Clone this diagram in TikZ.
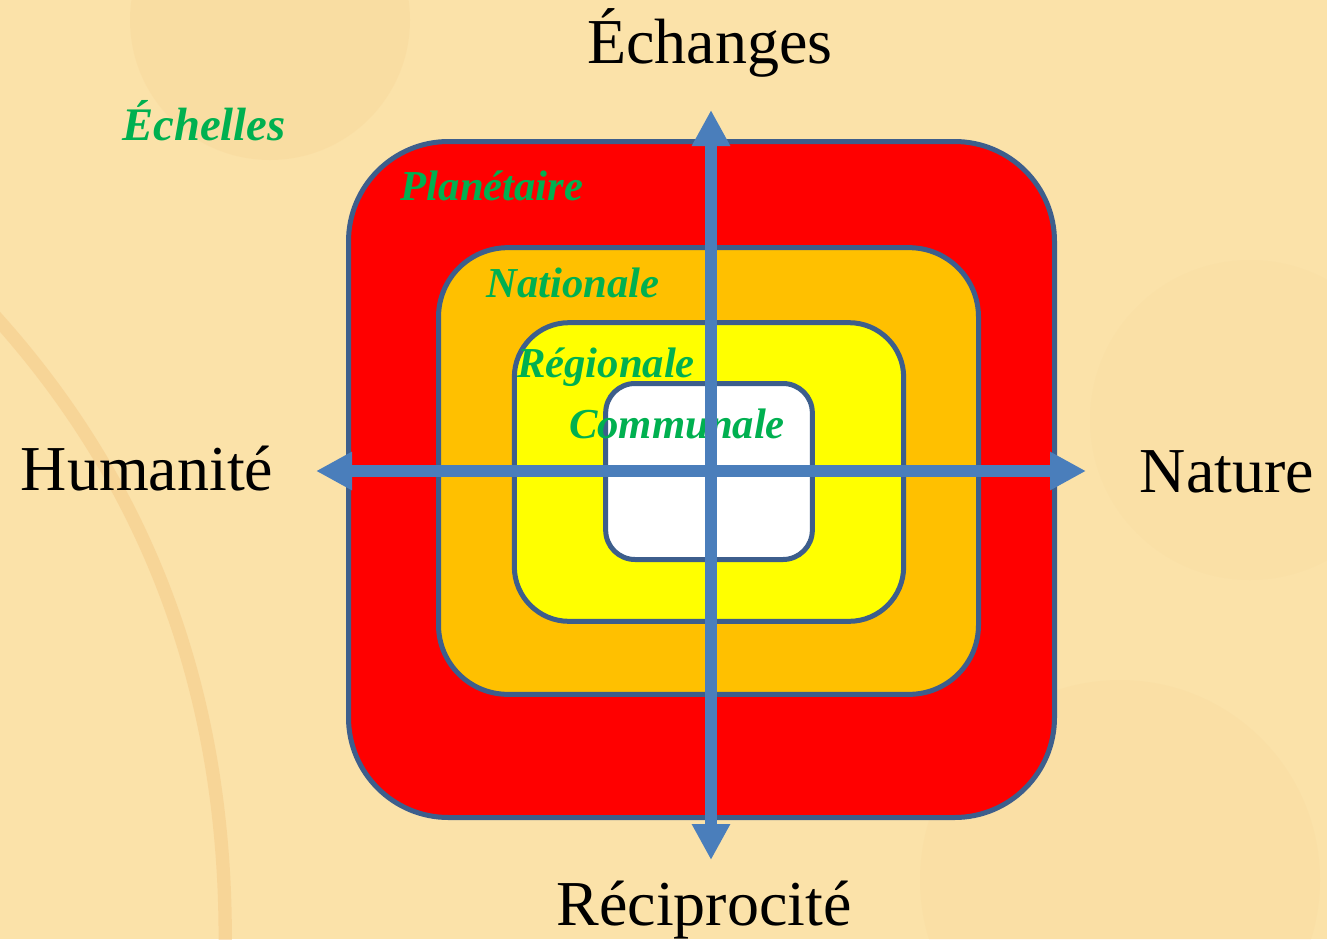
\documentclass[tikz,border=0pt]{standalone}
\usepackage{fontspec}
\setmainfont{Liberation Serif}
\usetikzlibrary{arrows.meta}
\definecolor{bg}{HTML}{FBE2A9}
\definecolor{bgdark}{HTML}{F5C987}
\definecolor{edge}{HTML}{3D5E8C}
\definecolor{axis}{HTML}{4A7EBB}
\definecolor{lbl}{HTML}{00B050}
\definecolor{orangebox}{HTML}{FFC000}
\definecolor{yellowbox}{HTML}{FFFF00}
\begin{document}
\begin{tikzpicture}[x=0.75pt,y=-0.75pt,
  box/.style={draw=edge,line width=3.75pt,inner sep=0pt,outer sep=0pt},
  axisline/.style={draw=axis,line width=9pt,{Triangle[length=27pt,width=27pt]}-{Triangle[length=27pt,width=27pt]}},
  biglbl/.style={font=\fontsize{48}{50}\selectfont,text=black,inner sep=0pt,anchor=base},
  scalelbl/.style={font=\fontsize{32}{34}\selectfont\bfseries\itshape,text=lbl,inner sep=0pt,anchor=base}]
% background
\fill[bg] (0,0) rectangle (1327,939);
\useasboundingbox (0,0) rectangle (1327,939);
\begin{scope}
\clip (0,0) rectangle (1327,939);
\fill[bgdark,opacity=0.18] (270,20) circle[radius=105pt];
\draw[bgdark,opacity=0.5,line width=10pt] (-20,300) .. controls (150,480) and (230,700) .. (225,960);
\fill[bgdark,opacity=0.1] (1120,880) circle[radius=150pt];
\fill[bgdark,opacity=0.08] (1250,420) circle[radius=120pt];
\end{scope}
% boxes
\node[box,fill=red,rounded corners=75pt,minimum width=529.5pt,minimum height=507pt] (plan) at (701.5,479.5) {};
\node[box,fill=orangebox,rounded corners=52pt,minimum width=405pt,minimum height=335pt] (nat) at (708.5,471) {};
\node[box,fill=yellowbox,rounded corners=41pt,minimum width=292pt,minimum height=224pt] (reg) at (709,472) {};
\node[box,fill=white,rounded corners=22pt,minimum width=155pt,minimum height=132pt] (com) at (709,471.5) {};
% scale labels
\node[scalelbl,font=\fontsize{35}{37}\selectfont\bfseries\itshape] (ech) at (204,140) {Échelles};
\node[scalelbl] (tplan) at (492,200) {Planétaire};
\node[scalelbl] (tnat) at (573,297) {Nationale};
\node[scalelbl] (treg) at (606,377) {Régionale};
\node[scalelbl] (tcom) at (677,438) {Communale};
% axes
\coordinate (top) at (711,110);
\coordinate (bot) at (711,860);
\coordinate (lft) at (316,471);
\coordinate (rgt) at (1086,471);
\draw[axisline] (bot) -- (top);
\draw[axisline] (lft) -- (rgt);
% axis labels
\node[biglbl] (echanges) at (710,63) {Échanges};
\node[biglbl] (humanite) at (147,490) {Humanité};
\node[biglbl] (nature) at (1227,492) {Nature};
\node[biglbl] (recip) at (704,925) {Réciprocité};
\end{tikzpicture}
\end{document}
